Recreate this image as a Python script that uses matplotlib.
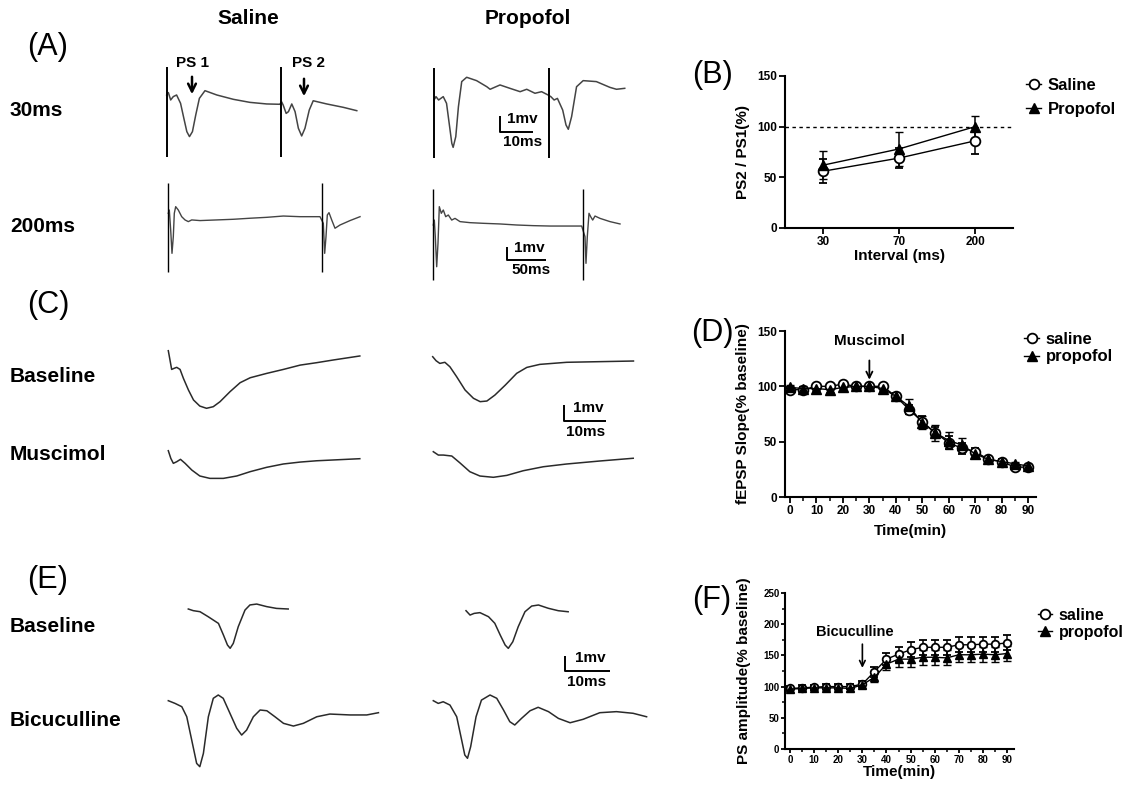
import matplotlib
matplotlib.use('Agg')
import matplotlib.pyplot as plt
from matplotlib.transforms import Affine2D
from matplotlib.lines import Line2D
from matplotlib.ticker import MultipleLocator

plt.rcParams['font.family'] = ['Liberation Sans', 'DejaVu Sans']
plt.rcParams['font.weight'] = 'bold'
plt.rcParams['axes.labelweight'] = 'bold'

W, H = 1130, 790

# ---------------- data: panel B (paired pulse ratio) ----------------
intervals = ['30', '70', '200']
pp_saline = [56, 69, 86]
pp_saline_err = [12, 10, 13]
pp_propofol = [62, 78, 100]
pp_propofol_err = [14, 17, 11]

# ---------------- data: panels D and F (time course) ----------------
time_min = [0, 5, 10, 15, 20, 25, 30, 35, 40, 45, 50, 55, 60, 65, 70, 75, 80, 85, 90]
musc_saline = [97, 97, 100, 100, 102, 100, 100, 100, 91, 79, 68, 58, 49, 44, 41, 34, 32, 27, 27]
musc_saline_err = [2, 2, 2, 2, 2, 2, 2, 2, 3, 4, 5, 5, 6, 5, 3, 2, 2, 2, 2]
musc_propofol = [99, 98, 98, 97, 99, 100, 100, 98, 91, 82, 67, 58, 51, 47, 39, 34, 32, 30, 28]
musc_propofol_err = [2, 2, 2, 2, 2, 2, 2, 2, 3, 7, 6, 7, 8, 6, 3, 2, 2, 2, 2]

bic_saline = [97, 98, 99, 100, 100, 100, 104, 124, 144, 152, 159, 163, 163, 163, 167, 167, 168, 168, 170]
bic_saline_err = [4, 4, 4, 4, 4, 4, 5, 8, 10, 12, 12, 12, 12, 12, 12, 12, 12, 12, 12]
bic_propofol = [96, 97, 98, 98, 98, 97, 103, 115, 136, 144, 144, 147, 147, 146, 151, 151, 152, 151, 153]
bic_propofol_err = [4, 4, 4, 4, 4, 4, 5, 8, 10, 12, 12, 12, 12, 12, 12, 12, 12, 12, 12]

# ---------------- data: example traces (t in ms, v in mV) ----------------
# (A) paired pulse, 30 ms interval
a30_sal_t = [0, 0.5, 1.2, 2.0, 3.0, 4.2, 5.2, 6.1, 6.9, 7.8, 8.8, 9.9, 11.6, 15.2, 20.2, 25.2, 30.3, 34.3,
             34.8, 35.3, 36.2, 36.9, 37.9, 38.9, 39.9, 40.9, 41.9, 43.2, 44.4, 48.5, 53.5, 57.6]
a30_sal_v = [0, 0.15, -0.31, -0.1, 0, -0.52, -1.46, -2.29, -2.6, -2.29, -1.25, -0.21, 0.27, 0, -0.27, -0.46, -0.56, -0.58,
             -0.42, -0.63, -1.15, -1.04, -0.56, -1.04, -2.08, -2.56, -2.08, -0.94, -0.36, -0.56, -0.77, -0.98]
a30_sal_stim = [0, 34.6]
a30_pro_t = [0, 0.6, 1.4, 2.8, 3.8, 4.6, 5.4, 5.8, 6.6, 7.4, 8.4, 9.9, 12.9, 16.0, 17.0, 20.0, 23.0, 26.1, 28.1, 30.6,
             32.6, 34.6, 35.4, 36.4, 37.4, 39.0, 40.0, 40.7, 41.7, 43.2, 45.2, 49.2, 53.3, 55.3, 57.8]
a30_pro_v = [0, 0.21, 0, 0.21, -0.21, -1.46, -2.71, -2.96, -2.29, -0.42, 1.15, 1.42, 1.21, 0.83, 0.67, 0.94, 0.73, 0.52,
             0.67, 0.42, 0.52, 0.31, 0.21, 0, 0.1, -0.63, -1.56, -1.83, -1.04, 0.83, 1.21, 1.15, 0.79, 0.67, 0.73]
a30_pro_stim = [0, 34.9]

# (A) paired pulse, 200 ms interval
a200_sal_t = [0, 1.3, 3.1, 4.8, 6.5, 7.8, 9.6, 13, 17.4, 21.7, 26, 30.4, 41.2, 62.9, 84.4, 106, 127.8, 149.4, 171, 197,
              201.3, 203.1, 204.8, 206.5, 208.7, 212.2, 216.5, 223, 236, 249]
a200_sal_v = [0, 0.25, -1.28, -3.08, -1.8, 0, 0.51, 0.25, -0.26, -0.51, -0.64, -0.51, -0.56, -0.51, -0.46, -0.38, -0.31,
              -0.21, -0.26, -0.26, -0.77, -3.08, -1.8, -0.13, 0.05, -0.51, -1.15, -0.9, -0.56, -0.26]
a200_sal_stim = [0, 200]
a200_pro_t = [0, 1.3, 2.6, 4.4, 6.1, 7.8, 10.4, 13, 16.1, 19.5, 23.9, 28.2, 34.7, 47.7, 64.9, 86.6, 108.3, 129.9,
              151.6, 173.2, 192.7, 197, 198.3, 200, 202.2, 204.4, 207, 210, 216.5, 229.5, 242.5]
a200_pro_v = [0, 0.38, -0.9, -3.21, -1.41, 1.41, 0.9, 1.15, 0.64, 0.77, 0.38, 0.51, 0.26, 0.18, 0.13, 0.08, 0, -0.05,
              -0.08, -0.08, -0.08, -0.9, -2.95, -0.9, 0.9, 0.64, 0.38, 0.69, 0.51, 0.26, 0.08]
a200_pro_stim = [0, 194.8]

# (C) fEPSP baseline / muscimol
c_sal_base_t = [0, 0.4, 0.8, 1.4, 2.0, 2.8, 3.6, 4.8, 6.0, 7.5, 9.1, 10.7, 12.3, 14.7, 17.1, 19.5, 23.4, 27.4, 31.4,
                35.3, 39.3, 45.6]
c_sal_base_v = [0, -0.58, -1.17, -1.1, -1.04, -1.17, -1.73, -2.46, -3.08, -3.46, -3.6, -3.5, -3.19, -2.56, -2.0, -1.69,
                -1.42, -1.17, -0.9, -0.75, -0.58, -0.33]
c_sal_musc_t = [0, 0.6, 1.2, 2.0, 2.9, 4.0, 5.6, 7.5, 9.9, 13.1, 16.3, 19.5, 23.4, 27.4, 31.4, 35.3, 45.6]
c_sal_musc_v = [0, -0.48, -0.79, -0.69, -0.54, -0.79, -1.21, -1.58, -1.73, -1.73, -1.58, -1.31, -1.04, -0.83, -0.71,
                -0.63, -0.5]
c_pro_base_t = [0, 0.8, 1.7, 2.9, 4.1, 5.7, 7.7, 9.7, 11.3, 12.9, 14.8, 17.3, 20.0, 22.4, 25.5, 31.9, 39.8, 47.8]
c_pro_base_v = [0, -0.25, -0.42, -0.35, -0.63, -1.25, -2.08, -2.6, -2.81, -2.77, -2.4, -1.77, -1.04, -0.67, -0.48,
                -0.35, -0.31, -0.27]
c_pro_musc_t = [0, 1.2, 2.4, 4.4, 6.3, 8.7, 11.1, 14.3, 17.5, 21.4, 26.2, 31.7, 39.7, 47.6]
c_pro_musc_v = [0, -0.21, -0.21, -0.27, -0.69, -1.25, -1.52, -1.6, -1.48, -1.19, -0.94, -0.77, -0.58, -0.41]

# (E) population spike baseline / bicuculline
e_sal_base_t = [0, 1.1, 2.6, 4.4, 6.7, 7.8, 8.7, 9.3, 10.0, 11.1, 12.6, 13.7, 15.2, 17.4, 19.6, 22.2]
e_sal_base_v = [0, -0.11, -0.18, -0.51, -0.96, -1.73, -2.4, -2.62, -2.29, -1.18, -0.07, 0.27, 0.33, 0.16, 0.04, 0]
e_sal_bic_t = [0, 1.5, 3.0, 4.1, 5.2, 6.3, 7.0, 7.8, 8.9, 10.0, 11.1, 12.2, 13.7, 15.2, 16.3, 17.4, 18.9, 20.4, 21.9,
               23.7, 25.6, 27.8, 30.0, 33.0, 35.9, 40.4, 44.1, 46.7]
e_sal_bic_v = [0, -0.18, -0.4, -1.07, -2.62, -4.18, -4.4, -3.51, -1.07, 0.16, 0.38, 0.16, -0.84, -1.84, -2.29, -1.96,
               -1.07, -0.62, -0.67, -1.07, -1.51, -1.69, -1.51, -1.07, -0.89, -0.95, -0.95, -0.8]
e_pro_base_t = [0, 0.9, 1.8, 3.1, 5.0, 6.4, 7.6, 8.7, 9.4, 10.4, 11.6, 13.1, 14.6, 16.1, 18.3, 20.5, 22.7]
e_pro_base_v = [0, -0.29, -0.18, -0.13, -0.4, -0.84, -1.62, -2.29, -2.51, -2.07, -1.07, -0.07, 0.31, 0.38, 0.16, 0,
                -0.07]
e_pro_bic_t = [0, 1.1, 2.2, 3.7, 5.2, 6.3, 7.0, 7.6, 8.3, 9.5, 10.7, 12.6, 14.1, 15.6, 17.0, 18.1, 19.6, 21.5, 23.3,
               25.6, 27.8, 30.4, 33.3, 37.0, 40.7, 44.4, 47.4]
e_pro_bic_v = [0, -0.18, -0.07, -0.29, -1.07, -2.62, -3.62, -3.84, -3.07, -1.07, 0.04, 0.38, 0.16, -0.62, -1.4, -1.62,
               -1.18, -0.67, -0.44, -0.73, -1.18, -1.47, -1.24, -0.8, -0.73, -0.84, -1.07]

fig = plt.figure(figsize=(W / 100, H / 100), dpi=100)

# page axes in pixel units (y downwards) for traces and labels
page = fig.add_axes([0, 0, 1, 1])
page.set_xlim(0, W)
page.set_ylim(H, 0)
page.axis('off')
page.patch.set_visible(False)


def tr(x0, y0, px_ms, px_mv):
    # ms / mV -> page pixels
    return Affine2D().scale(px_ms, -px_mv).translate(x0, y0) + page.transData


def draw_trace(t, v, tf, color='#2a2a2a', lw=1.1):
    page.plot(t, v, color=color, lw=lw, transform=tf, solid_joinstyle='round')


def stim_lines(times, vmin, vmax, tf, lw=1.4):
    page.vlines(times, vmin, vmax, color='k', lw=lw, transform=tf)


def scale_bar(tf, t0, v0, ms):
    page.plot([t0, t0, t0 + ms], [v0 + 1, v0, v0], color='k', lw=1.4, transform=tf,
              solid_capstyle='butt')


# ---- (A) 30 ms ----
tf = tr(166.7, 95, 3.3, 16)
draw_trace(a30_sal_t, a30_sal_v, tf, color='#444444')
stim_lines(a30_sal_stim, -3.86, 1.77, tf)
tf = tr(434, 100, 3.3, 16)
draw_trace(a30_pro_t, a30_pro_v, tf, color='#444444')
stim_lines(a30_pro_stim, -3.65, 2.0, tf)
scale_bar(tf, 20, -1.98, 10)

# ---- (A) 200 ms ----
tf = tr(168.3, 213.3, 0.77, 13)
draw_trace(a200_sal_t, a200_sal_v, tf, color='#444444', lw=1.0)
stim_lines(a200_sal_stim, -4.49, 2.31, tf, lw=1.0)
tf = tr(433.3, 225, 0.77, 13)
draw_trace(a200_pro_t, a200_pro_v, tf, color='#444444', lw=1.0)
stim_lines(a200_pro_stim, -4.23, 2.74, tf, lw=1.0)
scale_bar(tf, 96, -2.69, 50)

# ---- (C) ----
draw_trace(c_sal_base_t, c_sal_base_v, tr(168.3, 350.7, 4.2, 16))
draw_trace(c_sal_musc_t, c_sal_musc_v, tr(168.3, 450.7, 4.2, 16))
tf = tr(432.7, 356.7, 4.2, 16)
draw_trace(c_pro_base_t, c_pro_base_v, tf)
draw_trace(c_pro_musc_t, c_pro_musc_v, tr(433.3, 451.7, 4.2, 16))
scale_bar(tf, 31.3, -4.0, 10)

# ---- (E) ----
draw_trace(e_sal_base_t, e_sal_base_v, tr(188.3, 609, 4.5, 15))
draw_trace(e_sal_bic_t, e_sal_bic_v, tr(168.3, 700.7, 4.5, 15))
tf = tr(466, 610.7, 4.5, 15)
draw_trace(e_pro_base_t, e_pro_base_v, tf)
draw_trace(e_pro_bic_t, e_pro_bic_v, tr(433.3, 700.7, 4.5, 15))
scale_bar(tf, 22, -4.0, 10)

# ---- text on the left side ----
for lbl, x, y in [('(A)', 48, 47), ('(C)', 48, 305), ('(E)', 48, 580),
                  ('(B)', 712, 75), ('(D)', 712, 333), ('(F)', 712, 600)]:
    page.text(x, y, lbl, fontsize=22, fontweight='normal', ha='center', va='center')

page.text(248, 18, 'Saline', fontsize=15, ha='center', va='center')
page.text(528, 18, 'Propofol', fontsize=15, ha='center', va='center')
for lbl, y in [('30ms', 110), ('200ms', 227), ('Baseline', 377), ('Muscimol', 455),
               ('Baseline', 627), ('Bicuculline', 720)]:
    page.text(10, y, lbl, fontsize=15, ha='left', va='center')

page.text(193, 63, 'PS 1', fontsize=11, ha='center', va='center')
page.text(308, 63, 'PS 2', fontsize=11, ha='center', va='center')
page.annotate('', xy=(192, 97), xytext=(192, 74),
              arrowprops=dict(arrowstyle='->', lw=1.8, color='k', mutation_scale=14))
page.annotate('', xy=(304, 99), xytext=(304, 76),
              arrowprops=dict(arrowstyle='->', lw=1.8, color='k', mutation_scale=14))

for lbl, x, y in [('1mv', 522, 119), ('10ms', 523, 142), ('1mv', 529, 248), ('50ms', 531, 270),
                  ('1mv', 588, 408), ('10ms', 586, 432), ('1mv', 590, 658), ('10ms', 587, 682)]:
    page.text(x, y, lbl, fontsize=11, ha='center', va='center')


# ---------------- chart panels ----------------
def chart_axes(left, top, right, bottom):
    ax = fig.add_axes([left / W, 1 - bottom / H, (right - left) / W, (bottom - top) / H])
    ax.spines[['top', 'right']].set_visible(False)
    for s in ['left', 'bottom']:
        ax.spines[s].set_linewidth(1.5)
    ax.tick_params(direction='out', length=4, width=1.3, pad=2)
    ax.tick_params(which='minor', direction='out', length=3, width=1.1)
    ax.patch.set_visible(False)
    return ax


sal_style = dict(color='k', lw=1.0, marker='o', mfc='white', mec='k', mew=1.3,
                 capsize=3, elinewidth=1.1, capthick=1.1)
pro_style = dict(color='k', lw=1.0, marker='^', mfc='k', mec='k', mew=1.0,
                 capsize=3, elinewidth=1.1, capthick=1.1)
leg_handles = [Line2D([0], [0], color='k', lw=1, marker='o', mfc='white', mec='k', ms=7, mew=1.3),
               Line2D([0], [0], color='k', lw=1, marker='^', mfc='k', mec='k', ms=7)]

# (B)
axb = chart_axes(785, 76, 1013, 228)
xb = range(len(intervals))
axb.errorbar(xb, pp_saline, yerr=pp_saline_err, ms=7, **sal_style)
axb.errorbar(xb, pp_propofol, yerr=pp_propofol_err, ms=7, **pro_style)
axb.axhline(100, color='k', lw=1.0, ls=(0, (2.5, 2.5)))
axb.set_xlim(-0.5, 2.5)
axb.set_ylim(0, 150)
axb.set_xticks(list(xb))
axb.set_xticklabels(intervals)
axb.set_yticks([0, 50, 100, 150])
axb.tick_params(labelsize=8.5)
axb.set_ylabel('PS2 / PS1(%)', fontsize=11)
axb.yaxis.set_label_coords(-0.155, 0.5)
axb.set_xlabel('Interval (ms)', fontsize=11)
axb.xaxis.set_label_coords(0.5, -0.14)
fig.legend(leg_handles, ['Saline', 'Propofol'], loc='upper left', bbox_to_anchor=(1026 / W, 1 - 78 / H),
           frameon=False, prop={'weight': 'bold', 'size': 12}, handlelength=0.9, handletextpad=0.4,
           labelspacing=0.55, borderpad=0, borderaxespad=0)

# (D)
axd = chart_axes(785, 331, 1036, 497)
axd.errorbar(time_min, musc_saline, yerr=musc_saline_err, ms=7, **sal_style)
axd.errorbar(time_min, musc_propofol, yerr=musc_propofol_err, ms=7, **pro_style)
axd.set_xlim(-1.9, 93)
axd.set_ylim(0, 150)
axd.set_xticks(range(0, 91, 10))
axd.xaxis.set_minor_locator(MultipleLocator(5))
axd.set_yticks([0, 50, 100, 150])
axd.tick_params(labelsize=8.5)
axd.set_ylabel('fEPSP Slope(% baseline)', fontsize=11)
axd.yaxis.set_label_coords(-0.14, 0.5)
axd.set_xlabel('Time(min)', fontsize=11)
axd.xaxis.set_label_coords(0.5, -0.16)
axd.annotate('Muscimol', xy=(30, 106), xytext=(30, 141), ha='center', va='center', fontsize=11,
             arrowprops=dict(arrowstyle='->', lw=1.3, color='k', shrinkA=7, shrinkB=0))
fig.legend(leg_handles, ['saline', 'propofol'], loc='upper left', bbox_to_anchor=(1024 / W, 1 - 332 / H),
           frameon=False, prop={'weight': 'bold', 'size': 12}, handlelength=0.9, handletextpad=0.4,
           labelspacing=0.15, borderpad=0, borderaxespad=0)

# (F)
axf = chart_axes(785, 593, 1014, 749)
axf.errorbar(time_min, bic_saline, yerr=bic_saline_err, ms=5.5, **sal_style)
axf.errorbar(time_min, bic_propofol, yerr=bic_propofol_err, ms=5.5, **pro_style)
axf.set_xlim(-2.1, 92.9)
axf.set_ylim(0, 250)
axf.set_xticks(range(0, 91, 10))
axf.xaxis.set_minor_locator(MultipleLocator(5))
axf.set_yticks(range(0, 251, 50))
axf.yaxis.set_minor_locator(MultipleLocator(25))
axf.tick_params(labelsize=7, length=3, pad=1)
axf.tick_params(which='minor', length=2)
axf.set_ylabel('PS amplitude(% baseline)', fontsize=11)
axf.yaxis.set_label_coords(-0.15, 0.5)
axf.set_xlabel('Time(min)', fontsize=11)
axf.xaxis.set_label_coords(0.5, -0.105)
axf.text(27, 188, 'Bicuculline', ha='center', va='center', fontsize=10.5)
axf.annotate('', xy=(30, 130), xytext=(30, 168),
             arrowprops=dict(arrowstyle='->', lw=1.2, color='k', shrinkA=0, shrinkB=0))
fig.legend(leg_handles, ['saline', 'propofol'], loc='upper left', bbox_to_anchor=(1038 / W, 1 - 608 / H),
           frameon=False, prop={'weight': 'bold', 'size': 11.5}, handlelength=0.9, handletextpad=0.4,
           labelspacing=0.1, borderpad=0, borderaxespad=0)

fig.savefig('out.png', dpi=100)
